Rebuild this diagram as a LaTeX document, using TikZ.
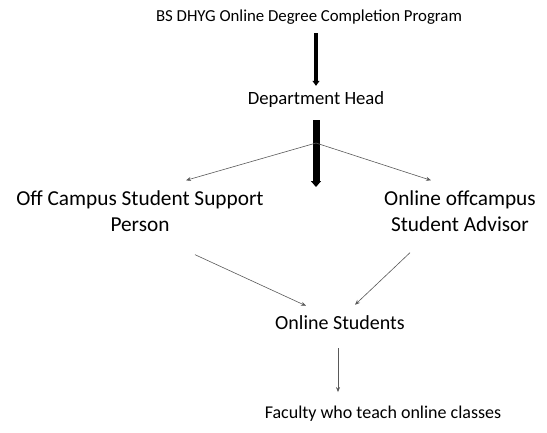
\documentclass[tikz,border=0pt]{standalone}
\usepackage{fontspec}
\setmainfont{Carlito}
\usetikzlibrary{arrows.meta}
\begin{document}
\begin{tikzpicture}[x=1pt,y=-1pt,
  lbl/.style={inner sep=2pt, align=center},
  titlefont/.style={font=\fontsize{16.8}{20}\selectfont},
  headfont/.style={font=\fontsize{18.7}{22}\selectfont},
  rolefont/.style={font=\fontsize{21.3}{26}\selectfont},
  heavy/.style={line width=4pt, -{Triangle[length=5pt,width=7pt]}},
  heavier/.style={line width=7pt, -{Triangle[length=6pt,width=10pt]}},
  thin/.style={gray!70!black, line width=0.6pt, -{Stealth[length=5pt,width=4pt]}}]
  \useasboundingbox (0,0) rectangle (547,432);

  % nodes of the hierarchy
  \node[lbl, titlefont] (prog) at (309,17) {BS DHYG Online Degree Completion Program};
  \node[lbl, headfont] (head) at (316,100) {Department Head};
  \node[lbl, rolefont] (support) at (140,211) {Off Campus Student Support\\Person};
  \node[lbl, rolefont] (advisor) at (460,211) {Online offcampus\\Student Advisor};
  \node[lbl, font=\fontsize{20}{24}\selectfont] (students) at (340,323) {Online Students};
  \node[lbl, font=\fontsize{18}{22}\selectfont] (faculty) at (383,414) {Faculty who teach online classes};

  % branching point on the lower heavy arrow
  \coordinate (fork) at (316,143);
  \coordinate (tip) at (316,187);
  \coordinate (down) at (338,348);

  % connectors
  \draw[heavy] (prog.south -| head.north) ++(0,7) -- ([yshift=4pt]head.north);
  \draw[heavier] ([yshift=-10pt]head.south) -- (tip);
  \draw[thin] (fork) -- ([shift={(46,-8)}]support.north);
  \draw[thin] (fork) -- ([shift={(-29,-8)}]advisor.north);
  \draw[thin] ([shift={(55,21)}]support.south) -- ([shift={(-34,-8)}]students.north);
  \draw[thin] ([shift={(-50,19)}]advisor.south) -- ([shift={(15,-9)}]students.north);
  \draw[thin] (down) -- ([yshift=12pt]down |- faculty.north);
\end{tikzpicture}
\end{document}
